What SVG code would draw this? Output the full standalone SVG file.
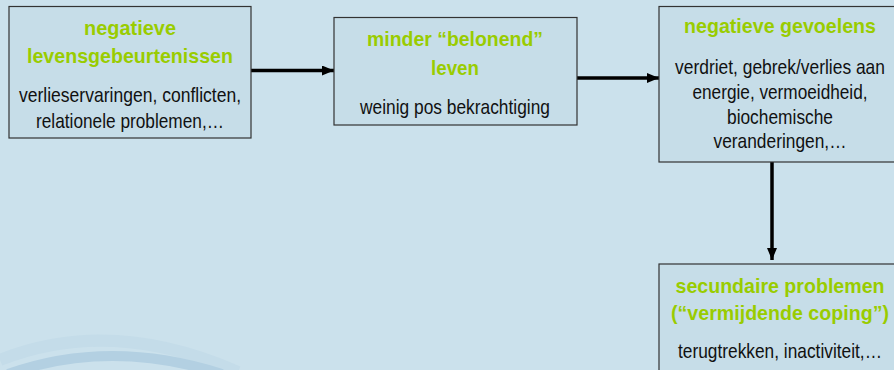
<svg xmlns="http://www.w3.org/2000/svg" width="894" height="370" viewBox="0 0 894 370">
<defs>
<style>
.box{fill:#c6dde8;stroke:#333;stroke-width:1.2}
.t{font-family:"Liberation Sans",Arial,sans-serif;font-weight:bold;font-size:21px;fill:#99cc00;text-anchor:middle}
.b{font-family:"Liberation Sans",Arial,sans-serif;font-size:20px;fill:#111;text-anchor:middle}
.c{stroke:#000;stroke-width:3.5;fill:none}
</style>
<marker id="ah" viewBox="0 0 12 10" refX="12" refY="5" markerWidth="12" markerHeight="10" markerUnits="userSpaceOnUse" orient="auto">
<path d="M0,0 L12,5 L0,10 Z" fill="#000"/>
</marker>
</defs>
<rect width="894" height="370" fill="#cbe1ec"/>
<g id="decoration">
<path d="M0,360 Q110,316 238,372" stroke="#c4dce9" stroke-width="12" fill="none"/>
<path d="M8,374 Q110,338 222,374" stroke="#b3d0e2" stroke-width="10" fill="none"/>
</g>
<g id="connectors">
<line class="c" x1="251" y1="70.5" x2="334" y2="70.5" marker-end="url(#ah)"/>
<line class="c" x1="577" y1="78" x2="659" y2="78" marker-end="url(#ah)"/>
<line class="c" x1="772" y1="162" x2="772" y2="260" marker-end="url(#ah)"/>
</g>
<g id="node1">
<rect class="box" x="9" y="6.5" width="242" height="131.5"/>
<g transform="translate(130,0)">
<text class="t" transform="scale(0.93,1)" x="0" y="35" textLength="98.9" lengthAdjust="spacingAndGlyphs">negatieve</text>
<text class="t" transform="scale(0.93,1)" x="0" y="63.5" textLength="221.5" lengthAdjust="spacingAndGlyphs">levensgebeurtenissen</text>
<text class="b" transform="scale(0.88,1)" x="0" y="102.5" textLength="252.3" lengthAdjust="spacingAndGlyphs">verlieservaringen, conflicten,</text>
<text class="b" transform="scale(0.88,1)" x="0" y="128.5" textLength="213.6" lengthAdjust="spacingAndGlyphs">relationele problemen,…</text>
</g>
</g>
<g id="node2">
<rect class="box" x="334" y="17.5" width="243" height="107.5"/>
<g transform="translate(455,0)">
<text class="t" transform="scale(0.93,1)" x="0" y="46.5" textLength="189.2" lengthAdjust="spacingAndGlyphs">minder “belonend”</text>
<text class="t" transform="scale(0.93,1)" x="0" y="75.5" textLength="51.6" lengthAdjust="spacingAndGlyphs">leven</text>
<text class="b" transform="scale(0.88,1)" x="0" y="114.5" textLength="215.9" lengthAdjust="spacingAndGlyphs">weinig pos bekrachtiging</text>
</g>
</g>
<g id="node3">
<rect class="box" x="659" y="6.5" width="236" height="155.5"/>
<g transform="translate(780,0)">
<text class="t" transform="scale(0.93,1)" x="0" y="33" textLength="206.5" lengthAdjust="spacingAndGlyphs">negatieve gevoelens</text>
<text class="b" transform="scale(0.88,1)" x="0" y="74" textLength="238.6" lengthAdjust="spacingAndGlyphs">verdriet, gebrek/verlies aan</text>
<text class="b" transform="scale(0.88,1)" x="0" y="99" textLength="198.9" lengthAdjust="spacingAndGlyphs">energie, vermoeidheid,</text>
<text class="b" transform="scale(0.88,1)" x="0" y="124" textLength="120.5" lengthAdjust="spacingAndGlyphs">biochemische</text>
<text class="b" transform="scale(0.88,1)" x="0" y="148.5" textLength="151.1" lengthAdjust="spacingAndGlyphs">veranderingen,…</text>
</g>
</g>
<g id="node4">
<rect class="box" x="659" y="264" width="236" height="120"/>
<g transform="translate(780,0)">
<text class="t" transform="scale(0.93,1)" x="0" y="293" textLength="224.7" lengthAdjust="spacingAndGlyphs">secundaire problemen</text>
<text class="t" transform="scale(0.93,1)" x="0" y="320.5" textLength="234.4" lengthAdjust="spacingAndGlyphs">(“vermijdende coping”)</text>
<text class="b" transform="scale(0.88,1)" x="0" y="358" textLength="231.8" lengthAdjust="spacingAndGlyphs">terugtrekken, inactiviteit,…</text>
</g>
</g>
</svg>
